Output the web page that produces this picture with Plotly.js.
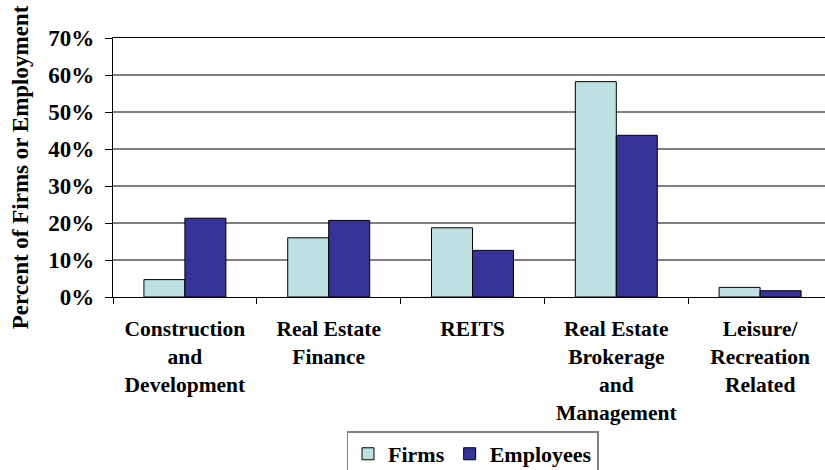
<!DOCTYPE html>
<html>
<head>
<meta charset="utf-8">
<script src="https://cdn.plot.ly/plotly-3.0.1.min.js"></script>
<style>
html,body{margin:0;padding:0;overflow:hidden;background:#fff;width:825px;height:470px;}
#chart{width:840px;height:470px;}
</style>
</head>
<body>
<div id="chart"></div>
<script>
const categories = [
  "Construction<br>and<br>Development",
  "Real Estate<br>Finance",
  "REITS",
  "Real Estate<br>Brokerage<br>and<br>Management",
  "Leisure/<br>Recreation<br>Related"
];
const firms = [4.7, 16.0, 18.7, 58.2, 2.6];
const employees = [21.3, 20.7, 12.6, 43.7, 1.7];
const yTickVals = [0, 10, 20, 30, 40, 50, 60, 70];
const yTickText = ["0%", "10%", "20%", "30%", "40%", "50%", "60%", "70%"];

const fontFam = "Liberation Serif";

const traces = [
  {type: "bar", name: "Firms", x: categories, y: firms,
   marker: {color: "#BDE0E2", line: {color: "#000", width: 1}}},
  {type: "bar", name: "Employees", x: categories, y: employees,
   marker: {color: "#333399", line: {color: "#000", width: 1}}}
];

const layout = {
  width: 840, height: 470,
  margin: {l: 112.5, r: 7.5, t: 37.7, b: 173, autoexpand: false},
  paper_bgcolor: "#fff", plot_bgcolor: "#fff",
  barmode: "group", bargap: 0.43, bargroupgap: 0,
  font: {family: fontFam, color: "#000", weight: "bold"},
  xaxis: {
    type: "category",
    tickfont: {family: fontFam, size: 21.5, weight: "bold", color: "#000"},
    showline: true, linecolor: "#000", linewidth: 1.2, mirror: true,
    ticks: "outside", ticklen: 6, tickcolor: "#000", tickson: "boundaries",
    showgrid: false, ticklabelstandoff: 12
  },
  yaxis: {
    range: [0, 70],
    tickvals: yTickVals, ticktext: yTickText,
    tickfont: {family: fontFam, size: 23, weight: "bold", color: "#000"},
    showline: true, linecolor: "#000", linewidth: 1.2, mirror: true,
    ticks: "outside", ticklen: 7, tickcolor: "#000",
    showgrid: true, gridcolor: "#808080", gridwidth: 1.5,
    zeroline: false,
    ticklabelstandoff: 6,
    title: {text: "Percent of Firms or Employment",
            font: {family: fontFam, size: 23, weight: "bold", color: "#000"},
            standoff: 13}
  },
  showlegend: true,
  legend: {
    orientation: "h", x: 0.5, xanchor: "center",
    yref: "container", y: 0.082, yanchor: "top",
    font: {family: fontFam, size: 22, weight: "bold", color: "#000"},
    bordercolor: "#808080", borderwidth: 1.5, bgcolor: "#fff",
    traceorder: "normal", itemwidth: 30
  }
};

Plotly.newPlot("chart", traces, layout, {displayModeBar: false, staticPlot: true});
</script>
</body>
</html>
